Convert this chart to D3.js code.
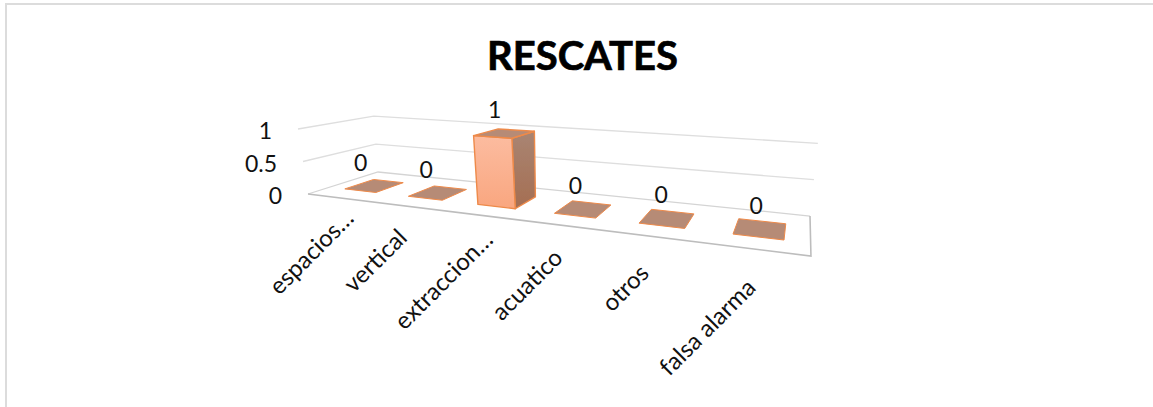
<!DOCTYPE html>
<meta charset="utf-8">
<style>
html, body { margin: 0; padding: 0; background: #fff; overflow: hidden; }
text { font-family: Lato, "Open Sans", sans-serif; fill: #111; }
</style>
<body>
<svg id="chart" width="1153" height="407"></svg>
<script src="https://d3js.org/d3.v7.min.js"></script>
<script>
var categories = ["espacios…", "vertical", "extraccion…", "acuatico", "otros", "falsa alarma"];
var values = [0, 0, 1, 0, 0, 0];
var valueTicks = [0, 0.5, 1];
var title = "RESCATES";

var svg = d3.select("#chart");

var defs = svg.append("defs");
var front = defs.append("linearGradient").attr("id", "frontFill")
  .attr("x1", 0).attr("y1", 0).attr("x2", 0).attr("y2", 1);
front.append("stop").attr("offset", "0%").attr("stop-color", "#fcbca0");
front.append("stop").attr("offset", "100%").attr("stop-color", "#f9a67f");
var side = defs.append("linearGradient").attr("id", "sideFill")
  .attr("x1", 0).attr("y1", 0).attr("x2", 0).attr("y2", 1);
side.append("stop").attr("offset", "0%").attr("stop-color", "#a98573");
side.append("stop").attr("offset", "100%").attr("stop-color", "#a56e52");
defs.append("filter").attr("id", "soft")
  .append("feGaussianBlur").attr("stdDeviation", 0.45);

// outer chart border (only top and left show in the picture)
svg.append("path")
  .attr("d", "M6,407V4H1153")
  .attr("fill", "none")
  .attr("stroke", "#dcdcdc")
  .attr("stroke-width", 2);

// scales work in floor units, project() turns them into pixels
var x = d3.scaleBand().domain(categories).range([0, 1]).paddingInner(0.5).paddingOuter(0.25);
var y = d3.scaleLinear().domain([0, 1]).range([0, 1]);
var depthFront = 0.28, depthBack = 0.7;

// perspective of the floor, fitted to its four corners, plus the wall height
function project(u, v, h) {
  var w = 1 - 0.27 * u + 0.1637 * v;
  var px = 284 * u + 131.9 * v + 308 + h * (-10 + 12 * u + 5 * v);
  var py = -7.1 * u + 6.16 * v + 194 - 65 * h;
  return [px / w, py / w];
}
var line = d3.line();

var plot = svg.append("g").attr("filter", "url(#soft)");

// wall gridlines
valueTicks.forEach(function(t) {
  if (t === 0) return;
  plot.append("path")
    .attr("d", line([project(0, 0, y(t)), project(0, 1, y(t)), project(1, 1, y(t))]))
    .attr("fill", "none")
    .attr("stroke", "#dedede")
    .attr("stroke-width", 1.3);
});

// floor
plot.append("path")
  .attr("d", line([project(0, 0, 0), project(0, 1, 0), project(1, 1, 0)]))
  .attr("fill", "none").attr("stroke", "#d4d4d4").attr("stroke-width", 1.3);
plot.append("path")
  .attr("d", line([project(0, 0, 0), project(1, 0, 0), project(1, 1, 0)]))
  .attr("fill", "none").attr("stroke", "#bdbdbd").attr("stroke-width", 1.6);

// bars
categories.forEach(function(c, i) {
  var u0 = x(c), u1 = x(c) + x.bandwidth(), h = y(values[i]);
  var g = plot.append("g")
    .attr("stroke", "#ee8a4a")
    .attr("stroke-width", 1.4)
    .attr("stroke-linejoin", "round");
  if (h > 0) {
    g.append("path")
      .attr("d", line([project(u1, depthFront, 0), project(u1, depthBack, 0), project(u1, depthBack, h), project(u1, depthFront, h)]) + "Z")
      .attr("fill", "url(#sideFill)");
    g.append("path")
      .attr("d", line([project(u0, depthFront, 0), project(u1, depthFront, 0), project(u1, depthFront, h), project(u0, depthFront, h)]) + "Z")
      .attr("fill", "url(#frontFill)");
  }
  g.append("path")
    .attr("d", line([project(u0, depthFront, h), project(u1, depthFront, h), project(u1, depthBack, h), project(u0, depthBack, h)]) + "Z")
    .attr("fill", "#b68b76")
    .attr("stroke-width", h > 0 ? 1.4 : 1);
});

// title
svg.append("text")
  .attr("x", 582.5).attr("y", 70)
  .attr("text-anchor", "middle")
  .attr("font-size", 40)
  .attr("font-weight", 700)
  .style("fill", "#000")
  .attr("stroke", "#000")
  .attr("stroke-width", 0.7)
  .text(title);

// value axis labels
valueTicks.forEach(function(t) {
  var p = project(0, 0, y(t));
  svg.append("text")
    .attr("x", p[0] - 26).attr("y", p[1] + 10)
    .attr("text-anchor", "end")
    .attr("font-size", 23)
    .text(t);
});

// data labels
categories.forEach(function(c, i) {
  var u = x(c) + x.bandwidth() / 2;
  var p = project(u, (depthFront + depthBack) / 2, y(values[i]));
  svg.append("text")
    .attr("x", p[0] - 15 + 12 * u).attr("y", p[1] - 15)
    .attr("text-anchor", "middle")
    .attr("font-size", 23)
    .text(values[i]);
});

// category labels, each nudged by hand because the original spacing is uneven
var labelNudge = [[16, 22], [2, 33], [14, 26], [2, 34], [-3, 38], [2, 40]];
categories.forEach(function(c, i) {
  var u = x(c) + x.bandwidth() / 2;
  var p = project(u, 0, 0);
  svg.append("text")
    .attr("transform", "translate(" + (p[0] + labelNudge[i][0]) + "," + (p[1] + labelNudge[i][1]) + ") rotate(-45)")
    .attr("text-anchor", "end")
    .attr("font-size", 24)
    .text(c);
});
</script>
</body>
